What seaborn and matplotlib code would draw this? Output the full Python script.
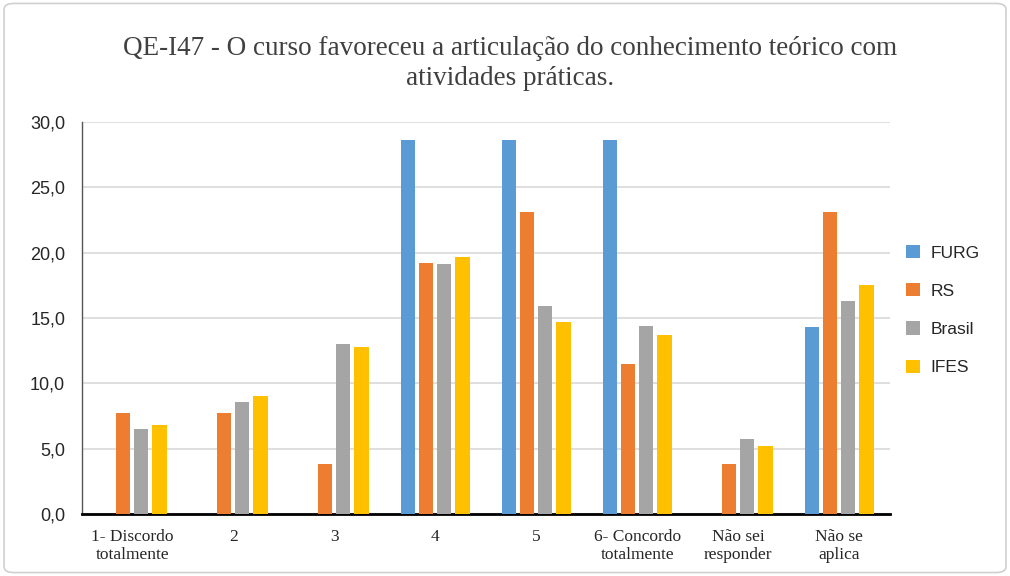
import matplotlib
matplotlib.use("Agg")
import matplotlib.pyplot as plt
from matplotlib.patches import FancyBboxPatch
import pandas as pd
import seaborn as sns

categorias = ["1- Discordo\ntotalmente", "2", "3", "4", "5",
              "6- Concordo\ntotalmente", "Não sei\nresponder", "Não se\naplica"]
furg = [0.0, 0.0, 0.0, 28.6, 28.6, 28.6, 0.0, 14.3]
rs = [7.7, 7.7, 3.8, 19.2, 23.1, 11.5, 3.8, 23.1]
brasil = [6.5, 8.6, 13.0, 19.1, 15.9, 14.4, 5.7, 16.3]
ifes = [6.8, 9.0, 12.8, 19.7, 14.7, 13.7, 5.2, 17.5]
series = ["FURG", "RS", "Brasil", "IFES"]
cores = ["#5B9BD5", "#ED7D31", "#A5A5A5", "#FFC000"]

df = pd.DataFrame({"cat": categorias, "FURG": furg, "RS": rs,
                   "Brasil": brasil, "IFES": ifes})
df = df.melt(id_vars="cat", var_name="serie", value_name="valor")

sns.set_style("white")
plt.rcParams['font.family'] = ['Liberation Sans', 'DejaVu Sans']

fig = plt.figure(figsize=(10.1, 5.76), dpi=100)
ax = fig.add_axes([0.081, 0.108, 0.80, 0.680])

sns.barplot(data=df, x="cat", y="valor", hue="serie", hue_order=series,
            palette=cores, width=0.72, gap=0.22, saturation=1,
            order=categorias, ax=ax, zorder=3, linewidth=0)

ax.set_ylim(0, 30)
ax.set_yticks([0, 5, 10, 15, 20, 25, 30])
ax.set_yticklabels([f"{v:.1f}".replace(".", ",") for v in ax.get_yticks()],
                   fontsize=13)
ax.yaxis.grid(True, color="#D9D9D9", linewidth=1.2, zorder=0)
ax.set_xlabel("")
ax.set_ylabel("")
for lbl in ax.get_xticklabels():
    lbl.set_fontfamily(['Liberation Serif', 'DejaVu Serif'])
    lbl.set_fontsize(12.5)
ax.tick_params(axis="x", length=0, pad=11)
ax.tick_params(axis="y", length=0, pad=12)
ax.set_xlim(-0.5, 7.5)

for s in ["top", "right"]:
    ax.spines[s].set_visible(False)
ax.spines["left"].set_color("#555555")
ax.spines["left"].set_linewidth(1.0)
ax.spines["bottom"].set_color("black")
ax.spines["bottom"].set_linewidth(2.0)

leg = ax.legend(loc="center left", bbox_to_anchor=(1.005, 0.52), frameon=False,
                fontsize=12.5, handlelength=0.8, handleheight=0.8,
                labelspacing=1.3, handletextpad=0.6, borderaxespad=0.3)

fig.text(0.505, 0.89, "QE-I47 - O curso favoreceu a articulação do conhecimento teórico com\natividades práticas.",
         ha="center", va="center", fontsize=19.5, color="#404040",
         family=['Liberation Serif', 'DejaVu Serif'], linespacing=1.25)

frame = FancyBboxPatch((0.004, 0.006), 0.992, 0.988,
                       boxstyle="round,pad=0,rounding_size=0.01",
                       transform=fig.transFigure, fill=False,
                       edgecolor="#D0D0D0", linewidth=1.2)
fig.patches.append(frame)

fig.savefig("out.png", dpi=100, facecolor="white")
